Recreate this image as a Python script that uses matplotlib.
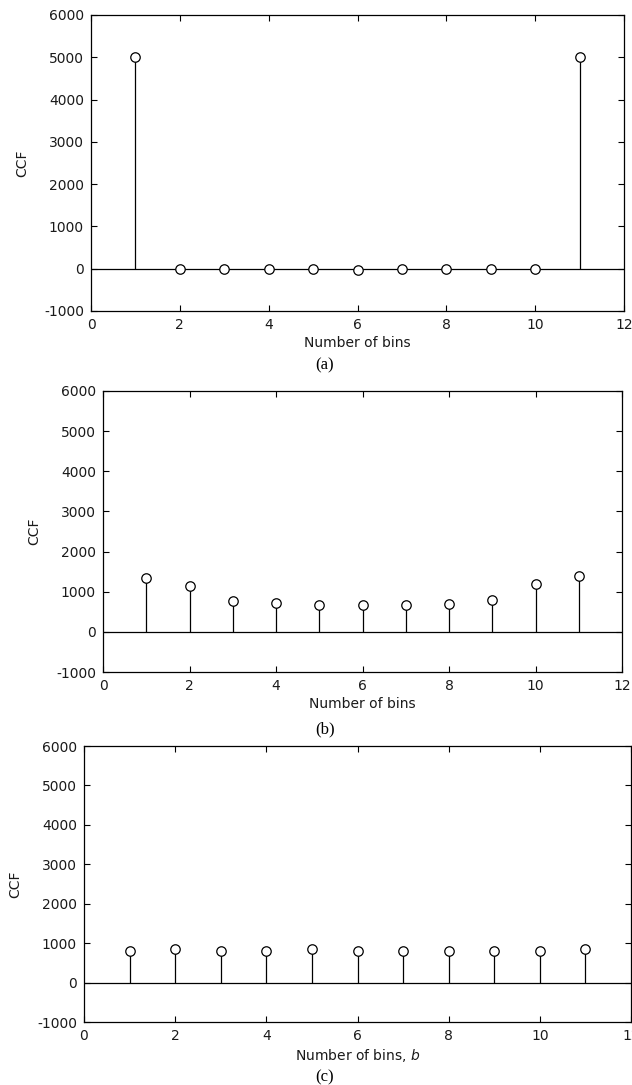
import matplotlib.pyplot as plt
import numpy as np

W, H = 632, 1085

bins = [1, 2, 3, 4, 5, 6, 7, 8, 9, 10, 11]
ccf_a = [5000, 0, 0, 0, 0, -25, 0, 0, 0, 0, 5000]
ccf_b = [1350, 1130, 780, 720, 660, 660, 660, 700, 800, 1200, 1380]
ccf_c = [810, 840, 810, 810, 840, 810, 810, 810, 810, 810, 840]

xticks = [0, 2, 4, 6, 8, 10, 12]
yticks = [-1000, 0, 1000, 2000, 3000, 4000, 5000, 6000]

# panel boxes in pixels: left, top, right, bottom, caption y
panels = [
    (ccf_a, (91, 15, 624, 311, 365), "Number of bins", "(a)"),
    (ccf_b, (103, 391, 622, 672, 729), "Number of bins", "(b)"),
    (ccf_c, (84, 746, 631, 1022, 1077), "Number of bins, $\\it{b}$", "(c)"),
]

plt.rcParams['font.family'] = ['DejaVu Sans']
plt.rcParams['axes.unicode_minus'] = False
txt = '#1a1a1a'
fig = plt.figure(figsize=(W / 100, H / 100), dpi=100)

for vals, (l, t, r, b, cy), xlab, cap in panels:
    ax = fig.add_axes([l / W, 1 - b / H, (r - l) / W, (b - t) / H])
    ax.axhline(0, color='black', lw=0.9, zorder=1)
    ax.vlines(bins, 0, vals, color='black', lw=0.9, zorder=2)
    ax.plot(bins, vals, 'o', mfc='white', mec='black', ms=6.8, mew=0.9, zorder=3)
    ax.set_xlim(0, 12)
    ax.set_ylim(-1000, 6000)
    ax.set_xticks(xticks)
    ax.set_yticks(yticks)
    ax.tick_params(direction='in', top=True, right=True, length=4, width=0.8,
                   labelsize=10, labelcolor=txt, pad=5)
    for s in ax.spines.values():
        s.set_linewidth(0.9)
    ax.set_ylabel("CCF", fontsize=10, color=txt, labelpad=11)
    ax.set_xlabel(xlab, fontsize=10, color=txt, labelpad=3)
    fig.text(325 / W, 1 - cy / H, cap, ha='center', va='center',
             fontsize=12, family='Liberation Serif')

fig.savefig("out.png", dpi=100)
